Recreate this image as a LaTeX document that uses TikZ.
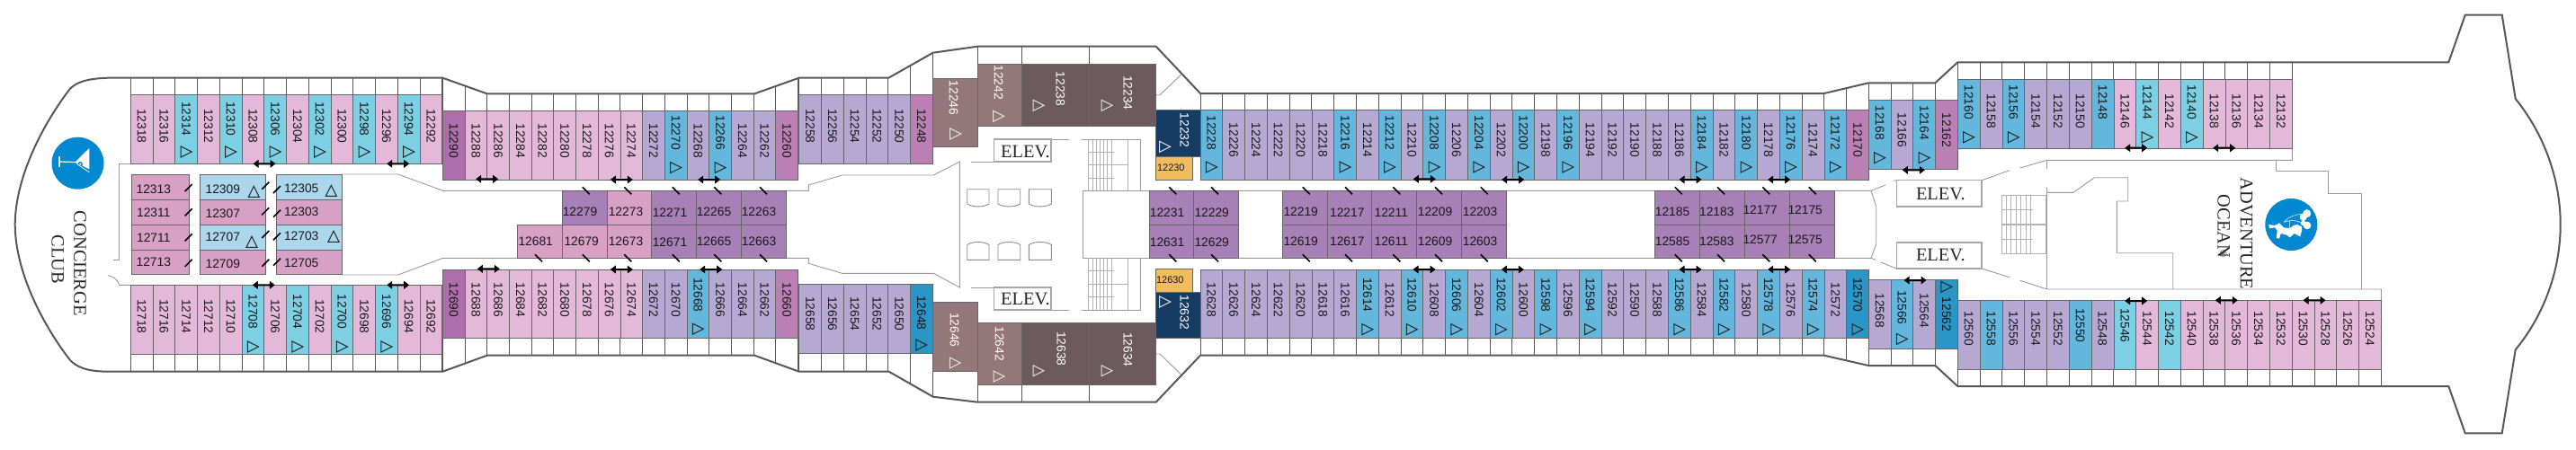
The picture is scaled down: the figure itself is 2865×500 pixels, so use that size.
\documentclass[tikz,border=0pt]{standalone}
\usepackage{fontspec}
\setmainfont{Liberation Sans}
\newfontfamily\serifl{Liberation Serif}
\definecolor{cP}{HTML}{E3B8D8}
\definecolor{cT}{HTML}{7DCFE3}
\definecolor{cL}{HTML}{B5A8D2}
\definecolor{cB}{HTML}{63B6DC}
\definecolor{cM}{HTML}{BA7FB5}
\definecolor{cH}{HTML}{AE6EAB}
\definecolor{cD}{HTML}{2A95C7}
\definecolor{cR}{HTML}{94777A}
\definecolor{cK}{HTML}{6C5A5C}
\definecolor{cN}{HTML}{173C63}
\definecolor{cO}{HTML}{F0BD5E}
\definecolor{cI}{HTML}{A880B8}
\definecolor{cJ}{HTML}{D9A0C6}
\definecolor{cQ}{HTML}{ACD6EC}
\definecolor{cC}{HTML}{0089D0}
\definecolor{hullc}{HTML}{585858}
\definecolor{corr}{HTML}{9A9A9A}
\def\myflagt{t}
\def\myflags{s}
\tikzset{
  x=0.5pt,y=-0.5pt,
  cab/.style={draw=black!60,line width=.35pt},
  num/.style={inner sep=0pt,text=black!90,font=\fontsize{6.9}{8}\selectfont},
  numw/.style={num,text=white},
  numsmall/.style={inner sep=0pt,text=black!90,font=\fontsize{5.5}{6}\selectfont},
  lab/.style={inner sep=0pt,text=black!85,font=\fontsize{10.2}{12}\selectfont\serifl},
  trimark/.style={draw=black!85,line width=.5pt,line join=miter},
  triw/.style={draw=black!12,line width=.5pt},
  hullline/.style={draw=hullc,line width=1pt,line join=miter},
  corrline/.style={draw=corr,line width=.45pt},
  balc/.style={draw=black!65,line width=.45pt},
  dblarrow/.style={fill=black,draw=none},
  doortick/.style={draw=black,line width=.8pt},
  stair/.style={draw=black!30,line width=.4pt},
  elevbox/.style={draw=black!35,fill=white,line width=.6pt},
  chairs/.style={draw=black!45,line width=.45pt}
}
\newcommand{\hullpath}{(120,86.7) -- (492.3,86.7) -- (541.7,104.3) -- (839.3,104.3) -- (888.7,86.7)
    -- (988.3,86.7) -- (1037.7,58.7) -- (1087.3,51.7) -- (1285.7,51.7) -- (1335,104)
    -- (2028.7,104) -- (2078.3,92.3) -- (2152.3,92.3) -- (2177.3,69.3) -- (2723.3,69.3)
    -- (2741.7,16.7) -- (2782.7,16.7) -- (2797.7,110)
    .. controls (2830,150) and (2847.7,200) .. (2847.7,250)
    .. controls (2847.7,300) and (2830,350) .. (2797.7,389.3)
    -- (2782.7,482.3) -- (2741.7,482.3) -- (2723.3,430) -- (2177.3,430) -- (2152.3,407)
    -- (2078.3,407) -- (2028.7,395.7) -- (1335,395.7) -- (1285.7,447.7) -- (1087.3,447.7)
    -- (1037.7,441.7) -- (988.3,413.5) -- (888.7,413.7) -- (839.3,395.7) -- (541.7,395.7)
    -- (492.3,413.7) -- (120,413.7)
    .. controls (95,413.5) and (85,408) .. (78,401)
    .. controls (50,365) and (17,305) .. (16.7,250)
    .. controls (17,195) and (50,135) .. (78,98.7)
    .. controls (85,92) and (95,87.5) .. (120,86.7) -- cycle}
\newcommand{\trimk}[3][trimark]{\draw[#1] ({#2-6},{#3-6}) -- ({#2+6},{#3}) -- ({#2-6},{#3+6}) -- cycle;}
\newcommand{\triup}[2]{\draw[trimark] ({#1-6},{#2+6}) -- ({#1+6},{#2+6}) -- ({#1},{#2-6}) -- cycle;}
\newcommand{\cabrow}[8]{%
  \foreach \rn/\rc/\rf [count=\ri from 0] in {#8} {%
    \pgfmathsetmacro\xa{#1+\ri*#2}%
    \pgfmathsetmacro\xb{\xa+#2}%
    \pgfmathsetmacro\xc{\xa+#2/2}%
    \pgfmathsetmacro\yb{#3+#4}%
    \ifx\rf\myflagt\pgfmathsetmacro\yt{#3+#6}\else\ifx\rf\myflags\pgfmathsetmacro\yt{#3+#6}\else\pgfmathsetmacro\yt{#3+#5}\fi\fi
    \pgfmathsetmacro\ym{#3+#7}%
    \path[cab,fill=c\rc] (\xa,#3) rectangle (\xb,\yb);
    \node[num,rotate=-90] (c\rn) at (\xc,\yt) {\rn};
    \ifx\rf\myflagt\trimk{\xc}{\ym}\fi
  }}
\newcommand{\room}[5]{\path[cab,fill=c#5] (#1,#2) rectangle (#3,#4);}
\newcommand{\balcs}[5]{\foreach \bi in {0,...,#3} {\pgfmathsetmacro\bx{#1+\bi*#2}\draw[balc] (\bx,#4) -- (\bx,#5);}}
\newcommand{\dbl}[2]{\fill[dblarrow] ({#1-12.5},#2) -- ({#1-6.5},{#2-4.5}) -- ({#1-6.5},{#2-1}) -- ({#1+6.5},{#2-1}) -- ({#1+6.5},{#2-4.5}) -- ({#1+12.5},#2) -- ({#1+6.5},{#2+4.5}) -- ({#1+6.5},{#2+1}) -- ({#1-6.5},{#2+1}) -- ({#1-6.5},{#2+4.5}) -- cycle;}
\newcommand{\tickf}[2]{\draw[doortick] ({#1-4},{#2+4}) -- ({#1+4},{#2-4});}
\newcommand{\tickb}[2]{\draw[doortick] ({#1-4},{#2-4}) -- ({#1+4},{#2+4});}
\newcommand{\chairshape}[4]{\draw[chairs] (#1,#3) -- (#2,#3) -- (#2,{#4}) .. controls ({#2-6},{#4+(#4-#3)*.24}) and ({#1+6},{#4+(#4-#3)*.24}) .. (#1,{#4}) -- cycle;}
\begin{document}
\begin{tikzpicture}
\useasboundingbox (0,0) rectangle (2865,500);
\begin{scope}
\clip \hullpath;
\balcs{145.3}{24.75}{14}{105.7}{0}
\balcs{492.3}{24.7}{16}{123.3}{0}
\balcs{888.7}{24.75}{6}{105.7}{0}
\balcs{1335}{24.78}{30}{122.3}{0}
\balcs{2078.3}{24.75}{4}{111.3}{0}
\balcs{2177.3}{24.8}{15}{88.3}{0}
\draw[balc] (1037.7,87.3) -- (1037.7,0);
\draw[balc] (1087.3,71) -- (1087.3,0);
\draw[balc] (1136.7,71) -- (1136.7,0);
\draw[balc] (1211.7,71) -- (1211.7,0);
\balcs{145.3}{24.75}{14}{394.3}{500}
\balcs{492.3}{24.7}{16}{376.7}{500}
\balcs{888.7}{24.75}{6}{393.7}{500}
\balcs{1335}{24.78}{30}{376.7}{500}
\balcs{2078.3}{24.75}{4}{388.3}{500}
\balcs{2177.3}{24.79}{19}{411}{500}
\draw[balc] (1037.7,413.3) -- (1037.7,500);
\draw[balc] (1087.3,428.3) -- (1087.3,500);
\draw[balc] (1136.7,428.3) -- (1136.7,500);
\draw[balc] (1211.7,428.3) -- (1211.7,500);
\end{scope}
\draw[corrline] (145.3,182.3) -- (132.7,182.3) -- (132.7,289.7) -- (126,289.7);
\draw[corrline] (120,306.7) .. controls (126,308) and (130,310) .. (132.7,317.3) -- (145.3,317.3);
\draw[corrline] (380,194) -- (442.7,194) -- (492.7,212.3) -- (899.3,212.3) -- (899.3,206) -- (936.7,195) -- (1038.3,195) -- (1067.3,180) -- (1067.3,320) -- (1038.3,304.3) -- (936.7,304.3) -- (899.3,293.3) -- (899.3,287.3) -- (492.7,287.3) -- (442.7,306) -- (380,306);
\draw[corrline] (1204.3,212.3) rectangle (1278.3,287.3);
\draw[corrline] (1278.3,212.3) -- (2081,212.3) -- (2086.7,230) -- (2086.7,271.7) -- (2081,287.3) -- (1278.3,287.3);
\draw[corrline] (2081,212.3) -- (2096.7,206);
\draw[corrline] (2105.7,201.3) -- (2109.3,200.7);
\draw[corrline] (2081,287.3) -- (2086,289.5);
\draw[corrline] (2091.7,292) -- (2109.3,299);
\draw[corrline] (2204,200.7) -- (2235,189.7);
\draw[corrline] (2246.7,187) -- (2276.7,178.3) -- (2549.3,178.3) -- (2549.3,165.3);
\draw[corrline] (2276.7,178.3) -- (2276.7,188);
\draw[corrline] (2204,299) -- (2235,308.7);
\draw[corrline] (2246.7,312.3) -- (2276.7,322) -- (2648.3,322) -- (2648.3,334.3);
\draw[corrline] (2276.7,209.3) -- (2276.7,322);
\draw[corrline] (2276.7,214.3) -- (2306,214.3) -- (2329.3,197.7) -- (2366.7,197.7) -- (2366.7,224) -- (2354.3,224) -- (2354.3,281.7) -- (2416.7,281.7) -- (2416.7,322);
\draw[corrline] (2531,178.3) -- (2531,190) -- (2589,190) -- (2589,215) -- (2626,215) -- (2626,322);
\draw[corrline] (1285.7,105.7) -- (1290,105.7) -- (1313.3,83.3);
\draw[corrline] (1285.7,394) -- (1290,394) -- (1313.3,416.7);
\draw[corrline] (1080,180) -- (1105.7,180);
\draw[corrline] (1080,320) -- (1105.7,320);
\draw[corrline] (1169,155) -- (1188.7,155);
\draw[corrline] (1169,345) -- (1188.7,345);
\foreach \sx in {1210.7,1215,1219.3,1223.3,1227.3,1231.7,1236.7,1254} {
  \draw[stair] (\sx,155) -- (\sx,212.3);
  \draw[stair] (\sx,287.3) -- (\sx,345);
}
\foreach \sy in {169.3,198.3,301.7,330.7} {\draw[stair] (1210.7,\sy) -- (1239,\sy);}
\draw[stair] (1210.7,183.3) -- (1254,183.3);
\draw[stair] (1210.7,316) -- (1254,316);
\draw[corrline] (1202.7,155) -- (1268.3,155) -- (1268.3,212.3);
\draw[corrline] (1202.7,345) -- (1268.3,345) -- (1268.3,287.3);
\draw[stair] (2226.7,217.7) rectangle (2275.7,282.3);
\foreach \sx in {2231.7,2236.7,2242.3,2247.7,2253.3,2258.7} {\draw[stair] (\sx,217.7) -- (\sx,282.3);}
\foreach \sy in {233.3,266.7} {\draw[stair] (2226.7,\sy) -- (2260.7,\sy);}
\draw[stair,line width=.7pt] (2226.7,250) -- (2275.7,250);
\chairshape{1075.7}{1100}{210.7}{227}
\chairshape{1110}{1134.7}{210.7}{227}
\chairshape{1144.3}{1169.3}{210.7}{227}
\chairshape{1075.7}{1100}{289.3}{272.5}
\chairshape{1110}{1134.7}{289.3}{272.5}
\chairshape{1144.3}{1169.3}{289.3}{272.5}
% elevators
\draw[elevbox] (1105.7,155) rectangle (1169,180);
\node[lab] (elev1) at (1140.5,169) {ELEV.};
\draw[elevbox] (1105.7,320) rectangle (1169,345);
\node[lab] (elev2) at (1140.5,333.3) {ELEV.};
\draw[elevbox] (2109.3,200.7) rectangle (2204,230);
\node[lab] (elev3) at (2158.3,215.7) {ELEV.};
\draw[elevbox] (2109.3,270) rectangle (2204,299);
\node[lab] (elev4) at (2158.3,284.3) {ELEV.};
\cabrow{145.3}{24.75}{105.7}{76.6}{34.5}{26.5}{63.3}{12318/P/n,12316/P/n,12314/T/t,12312/P/n,12310/T/t,12308/P/n,12306/T/t,12304/P/n,12302/T/t,12300/P/n,12298/T/t,12296/P/n,12294/T/t,12292/P/n}
\cabrow{492.3}{24.7}{123.3}{76.7}{33.3}{24.3}{63.3}{12290/H/n,12288/P/n,12286/P/n,12284/P/n,12282/P/n,12280/P/n,12278/P/n,12276/P/n,12274/P/n,12272/L/n,12270/B/t,12268/L/n,12266/B/t,12264/L/n,12262/L/n,12260/M/n}
\cabrow{888.7}{24.75}{105.7}{76.6}{34.5}{26.5}{63.3}{12258/L/n,12256/L/n,12254/L/n,12252/L/n,12250/L/n,12248/M/n}
\cabrow{1335}{24.78}{122.3}{77.7}{33.7}{25.3}{63.7}{12228/B/t,12226/L/n,12224/L/n,12222/L/n,12220/L/n,12218/L/n,12216/B/t,12214/L/n,12212/B/t,12210/L/n,12208/B/t,12206/L/n,12204/B/t,12202/L/n,12200/B/t,12198/L/n,12196/B/t,12194/L/n,12192/L/n,12190/L/n,12188/L/n,12186/L/n,12184/B/t,12182/L/n,12180/B/t,12178/L/n,12176/B/t,12174/L/n,12172/B/t,12170/M/n}
\cabrow{2078.3}{24.75}{111.3}{77}{33.7}{25.3}{64.4}{12168/B/t,12166/L/n,12164/B/t,12162/M/n}
\cabrow{2177.3}{24.8}{88.3}{77}{35.5}{25.5}{64.5}{12160/B/t,12158/L/n,12156/B/t,12154/L/n,12152/L/n,12150/L/n,12148/B/s,12146/P/n,12144/T/t,12142/P/n,12140/T/t,12138/P/n,12136/P/n,12134/P/n,12132/P/n}
\cabrow{145.3}{24.75}{317.3}{77}{35}{29.7}{68.7}{12718/P/n,12716/P/n,12714/P/n,12712/P/n,12710/P/n,12708/T/t,12706/P/n,12704/T/t,12702/P/n,12700/T/t,12698/P/n,12696/T/t,12694/P/n,12692/P/n}
\cabrow{492.3}{24.7}{300}{76.7}{34}{28.3}{66.2}{12690/H/n,12688/P/n,12686/P/n,12684/P/n,12682/P/n,12680/P/n,12678/P/n,12676/P/n,12674/P/n,12672/L/n,12670/L/n,12668/B/t,12666/L/n,12664/L/n,12662/L/n,12660/M/n}
\cabrow{888.7}{24.75}{316.7}{77}{32.7}{31.6}{67.3}{12658/L/n,12656/L/n,12654/L/n,12652/L/n,12650/L/n,12648/D/t}
\cabrow{1335}{24.78}{300}{76.7}{34}{28.3}{66.7}{12628/L/n,12626/L/n,12624/L/n,12622/L/n,12620/L/n,12618/L/n,12616/L/n,12614/B/t,12612/L/n,12610/B/t,12608/L/n,12606/B/t,12604/L/n,12602/B/t,12600/L/n,12598/B/t,12596/L/n,12594/B/t,12592/L/n,12590/L/n,12588/L/n,12586/B/t,12584/L/n,12582/B/t,12580/L/n,12578/B/t,12576/L/n,12574/B/t,12572/L/n,12570/D/t}
\cabrow{2078.3}{24.75}{311.7}{76.6}{34}{30.7}{65.7}{12568/L/n,12566/B/t,12564/L/n}
\room{2152.55}{311.7}{2177.3}{388.3}{D}
\node[num,rotate=-90] (c12562) at (2164.9,350) {12562};
\trimk{2164.9}{319.3}
\cabrow{2177.3}{24.79}{334.3}{76.7}{31.4}{28}{60}{12560/L/n,12558/B/n,12556/L/n,12554/L/n,12552/L/n,12550/B/s,12548/L/n,12546/T/s,12544/P/n,12542/T/n,12540/P/n,12538/P/n,12536/P/n,12534/P/n,12532/P/n,12530/P/n,12528/P/n,12526/P/n,12524/P/n}
\room{1037.7}{87.3}{1087.3}{163.3}{R}
\node[numw,rotate=-90] (c12246) at (1060.7,109) {12246};
\trimk[triw]{1062.7}{149}
\room{1087.3}{71}{1136.7}{140}{R}
\node[numw,rotate=-90] (c12242) at (1110.7,91.7) {12242};
\trimk[triw]{1110.7}{129.3}
\room{1136.7}{71}{1211.7}{140}{K}
\node[numw,rotate=-90] (c12238) at (1179.3,99) {12238};
\trimk[triw]{1155}{117.3}
\room{1211.7}{71}{1285.7}{140}{K}
\node[numw,rotate=-90] (c12234) at (1254.3,103.3) {12234};
\trimk[triw]{1231}{117.3}
\room{1285.7}{122.3}{1335}{174}{N}
\node[numw,rotate=-90] (c12232) at (1317.3,145) {12232};
\trimk[triw]{1295.7}{163.3}
\room{1285.7}{174}{1326.7}{200}{O}
\node[numsmall] (c12230) at (1302.3,187) {12230};
\room{1037.7}{336.7}{1087.3}{413.3}{R}
\node[numw,rotate=-90] (c12646) at (1061.7,367.3) {12646};
\trimk[triw]{1062.3}{404}
\room{1087.3}{359.3}{1136.7}{428.3}{R}
\node[numw,rotate=-90] (c12642) at (1111.7,382.7) {12642};
\trimk[triw]{1111}{419}
\room{1136.7}{359.3}{1211.7}{428.3}{K}
\node[numw,rotate=-90] (c12638) at (1180.3,388.3) {12638};
\trimk[triw]{1155}{412.7}
\room{1211.7}{359.3}{1285.7}{428.3}{K}
\node[numw,rotate=-90] (c12634) at (1254.3,389.3) {12634};
\trimk[triw]{1231}{412.7}
\room{1285.7}{325}{1335}{376.7}{N}
\node[numw,rotate=-90] (c12632) at (1317.3,347.7) {12632};
\trimk[triw]{1295.7}{336}
\room{1285.7}{299.3}{1326.7}{325}{O}
\node[numsmall] (c12630) at (1301.3,312) {12630};
\foreach \qa/\qb/\qt/\qy/\qz/\qu/\nm/\cl in {
 146/210/170.8/194/222.3/211/12313/J, 146/210/170.8/222.3/250/237/12311/J, 146/210/170.8/250/278/265/12711/J, 146/210/170.8/278/305.7/292/12713/J,
 222.7/295.7/247.8/194/222.3/211/12309/Q, 222.7/295.7/247.8/222.3/250/238/12307/J, 222.7/295.7/247.8/250/278/264/12707/Q, 222.7/295.7/247.8/278/305.7/294/12709/J,
 307.3/380/335.2/194/222.3/210/12305/Q, 307.3/380/335.2/222.3/250/236/12303/J, 307.3/380/335.2/250/278/263/12703/Q, 307.3/380/335.2/278/305.7/293/12705/J,
 625.3/675/645/212.3/250/235.3/12279/I, 675/724.3/696/212.3/250/236/12273/J, 724.3/774.3/745/212.3/250/236.3/12271/I, 774.3/824.3/794/212.3/250/235.3/12265/I, 824.3/874.3/844/212.3/250/235.3/12263/I,
 575.3/625.3/595.7/250/287.3/268.3/12681/J, 625.3/675/646.7/250/287.3/268.3/12679/J, 675/724.3/696/250/287.3/269/12673/J, 724.3/774.3/745/250/287.3/269.3/12671/I, 774.3/824.3/794/250/287.3/268.3/12665/I, 824.3/874.3/844/250/287.3/268.3/12663/I,
 1278.3/1327.7/1298/212.3/250/237/12231/I, 1327.7/1377.7/1347.7/212.3/250/237/12229/I, 1278.3/1327.7/1298/250/287.3/270/12631/I, 1327.7/1377.7/1347.7/250/287.3/270/12629/I,
 1426/1476/1446.7/212.3/250/236/12219/I, 1476/1525.7/1498.3/212.3/250/236.3/12217/I, 1525.7/1575.7/1547.3/212.3/250/236.3/12211/I, 1575.7/1625.3/1596/212.3/250/235.3/12209/I, 1625.3/1675.3/1646/212.3/250/235.3/12203/I,
 1426/1476/1446.7/250/287.3/268.3/12619/I, 1476/1525.7/1498.3/250/287.3/269/12617/I, 1525.7/1575.7/1547.3/250/287.3/269/12611/I, 1575.7/1625.3/1596/250/287.3/268.3/12609/I, 1625.3/1675.3/1646/250/287.3/268.3/12603/I,
 1840/1890.3/1860/212.3/250/235.3/12185/I, 1890.3/1940/1909.3/212.3/250/235.3/12183/I, 1940/1990/1957.7/212.3/250/234/12177/I, 1990/2040/2007.7/212.3/250/234/12175/I,
 1840/1890.3/1860/250/287.3/268.3/12585/I, 1890.3/1940/1909.3/250/287.3/268.3/12583/I, 1940/1990/1957.7/250/287.3/267/12577/I, 1990/2040/2007.7/250/287.3/267/12575/I} {
  \path[cab,fill=c\cl] (\qa,\qy) rectangle (\qb,\qz);
  \node[num] (c\nm) at (\qt,\qu) {\nm};
}
\triup{282.3}{213.3}
\triup{280}{269.3}
\triup{368.3}{212.3}
\triup{371}{263.3}
\foreach \qa/\qb in {209.7/209,209.7/236.3,209.7/264.3,209.7/292.7,295.3/206.7,295.3/235.3,295.3/261,295.3/292.7,308/211,308/237.7,308/263.3,308/291.7} {\tickf{\qa}{\qb}}
\foreach \qa in {651.7,698.3,751.7,798.3,849,1304.3,1351,1452.7,1500,1553.3,1600,1650.7,1866.7,1914,1964.3,2015.7} {\tickb{\qa}{212.3}}
\foreach \qa in {599,651.7,698.3,751.7,798.3,849,1304.3,1351,1452.7,1500,1553.3,1600,1650.7,1866.7,1914,1964.3,2015.7} {\tickb{\qa}{287.3}}
\foreach \qa/\qb in {294/182.3,442.7/182.3,293.3/317.3,442.7/317.3,541.7/199.3,691.3/200,788.7/200,543.3/299.3,691.3/300,790.7/300,1584.3/199.3,1682.7/200,1880/200,1584/300,1682.3/300,1880/300,1978.7/200,2128.3/189.3,2375.7/164.7,1978.7/300,2130/312,2375.7/335,2473.7/164.7,2476.3/334.3,2574/334.3} {\dbl{\qa}{\qb}}
\draw[hullline] \hullpath;
\fill[cC] (86.5,181.7) circle[radius=29];
\fill[white] (83.3,180.7) -- (99.3,165) -- (99.3,188.3) -- cycle;
\draw[white,line width=.9pt] (65.7,174) -- (65.7,185.5);
\draw[white,line width=.6pt] (65.7,180) -- (84,180.5);
\fill[cC] (89.3,182.7) circle[radius=2.7];
\draw[white,line width=.4pt] (85.5,182.5) -- (99.3,191.7);
\fill[white] (89.3,182.7) circle[radius=1.2];
\node[lab,rotate=-90] (concierge) at (89,293.3) {CONCIERGE};
\node[lab,rotate=-90] (club) at (64.3,288.7) {CLUB};
\fill[cC] (2548.3,250) circle[radius=29];
\fill[white] (2523.3,250) -- (2524,254.3) -- (2530,253.3) -- (2532.7,256.7) -- (2531.7,265) -- (2535,265.7) -- (2536.7,260) -- (2543.3,261.7) -- (2546.7,264.3) -- (2551.7,260) -- (2558.3,263.3) -- (2560,256.7) -- (2560,252.3) -- (2555,250) -- (2550.7,251) -- (2546.7,254.3) -- (2540,253.3) -- (2535,248.3) -- (2530,251) -- cycle;
\fill[white] (2565.7,237.7) circle[radius=4.5] (2561.7,241.7) circle[radius=4] (2566,251) circle[radius=4.3] (2561.7,248.3) circle[radius=3];
\draw[white,line width=.25pt] (2540,247.3) .. controls (2546,241) and (2552,239) .. (2560,238.3) (2546.7,245.7) .. controls (2551,245) and (2556,246) .. (2560,248.3) (2540,247.3) -- (2546.7,245.7) -- (2546.7,254.3);
\node[lab,rotate=-90] (adventure) at (2498.3,260) {ADVENTURE};
\node[lab,rotate=-90] (ocean) at (2473.3,252) {OCEAN\kern-.42em\raisebox{.12em}{\fontsize{5.5}{6}\selectfont ®}};
\end{tikzpicture}
\end{document}
